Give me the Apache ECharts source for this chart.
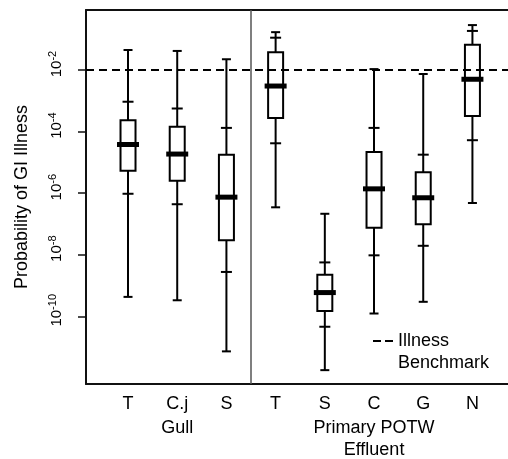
<!DOCTYPE html>
<html>
<head>
<meta charset="utf-8">
<script src="https://cdn.jsdelivr.net/npm/echarts@6/dist/echarts.min.js"></script>
<style>
html,body{margin:0;padding:0;background:#fff;}
#chart{width:508px;height:459px;}
</style>
</head>
<body>
<div id="chart"></div>
<script>
// Categories (x positions 0..7)
const categories = ['T', 'C.j', 'S', 'T', 'S', 'C', 'G', 'N'];
const groups = ['Gull', 'Primary POTW\nEffluent'];
const groupCenters = [1, 5];
const groupBoundary = 2.5;
// Values are log10(probability of GI illness)
const maxVals = [-1.35, -1.38, -1.65, -0.77, -6.67, -1.97, -2.13, -0.54];
const p95Vals = [-3.03, -3.25, -3.88, -0.95, -8.25, -3.88, -4.75, -0.73];
const q3Vals  = [-3.63, -3.84, -4.75, -1.42, -8.65, -4.66, -5.32, -1.18];
const medVals = [-4.42, -4.73, -6.13, -2.52, -9.23, -5.86, -6.15, -2.30];
const q1Vals  = [-5.27, -5.60, -7.53, -3.56, -9.83, -7.12, -7.01, -3.49];
const p5Vals  = [-6.02, -6.36, -8.56, -4.38, -10.34, -8.02, -7.71, -4.28];
const minVals = [-9.37, -9.48, -11.14, -6.46, -11.75, -9.91, -9.53, -6.32];
const benchmarkExp = -2;           // 10^-2 illness benchmark
const yTickExps = [-10, -8, -6, -4, -2];

const FONT = 'Liberation Sans, Arial, Helvetica, sans-serif';
const data = categories.map((c, i) => [i, minVals[i], p5Vals[i], q1Vals[i], medVals[i], q3Vals[i], p95Vals[i], maxVals[i]]);

const chart = echarts.init(document.getElementById('chart'), null, {renderer: 'canvas'});
const xMin = -0.854, xMax = 7.723;
const frameLine = {show: true, onZero: false, lineStyle: {color: '#111', width: 2}};

chart.setOption({
  animation: false,
  backgroundColor: '#fff',
  textStyle: {fontFamily: FONT, color: '#000'},
  grid: {left: 86, top: 10, right: 0, height: 374, show: false, containLabel: false, outerBoundsMode: 'none'},
  legend: {
    left: 373, top: 308, padding: 0, itemWidth: 20, itemHeight: 2,
    data: [{name: 'Illness Benchmark', icon: 'path://M0,0h8v2h-8z M12,0h8v2h-8z'}],
    formatter: n => ' \n' + n.replace(' ', '\n'),
    itemStyle: {color: '#000'},
    textStyle: {fontFamily: FONT, fontSize: 18, color: '#000', lineHeight: 22},
    selectedMode: false
  },
  xAxis: [{
    type: 'value', min: xMin, max: xMax,
    axisLine: frameLine, axisTick: {show: false}, splitLine: {show: false},
    axisLabel: {customValues: categories.map((c, i) => i), formatter: v => categories[Math.round(v)], fontSize: 18, color: '#000', fontFamily: FONT, margin: 11}
  }, {
    type: 'value', min: xMin, max: xMax, position: 'bottom', offset: 23,
    axisLine: {show: false}, axisTick: {show: false}, splitLine: {show: false},
    axisLabel: {customValues: groupCenters, formatter: v => groups[groupCenters.indexOf(Math.round(v))], fontSize: 18, lineHeight: 22, color: '#000', fontFamily: FONT, margin: 10}
  }, {
    type: 'value', min: xMin, max: xMax, position: 'top',
    axisLine: frameLine, axisTick: {show: false}, splitLine: {show: false}, axisLabel: {show: false}
  }],
  yAxis: {
    type: 'value', min: -12.2, max: -0.05,
    name: 'Probability of GI Illness', nameLocation: 'middle', nameGap: 55,
    nameTextStyle: {fontSize: 18, color: '#000', fontFamily: FONT},
    splitLine: {show: false},
    axisLine: frameLine,
    axisTick: {show: true, customValues: yTickExps, length: 8, lineStyle: {color: '#111', width: 1.5}},
    axisLabel: {
      customValues: yTickExps, rotate: 90, margin: 19,
      formatter: v => '{b|10}{s|' + v + '}',
      rich: {
        b: {fontSize: 15, color: '#000', fontFamily: FONT, padding: [0, 0, 0, 12]},
        s: {fontSize: 11, color: '#000', fontFamily: FONT, padding: [0, 0, 9, 0]}
      }
    }
  },
  series: [{
    type: 'custom',
    name: 'boxes',
    clip: false,
    data: data,
    encode: {x: 0, y: [1, 2, 3, 4, 5, 6, 7]},
    z: 2,
    renderItem: function (params, api) {
      const x = api.value(0);
      const pt = k => api.coord([x, api.value(k)]);
      const mn = pt(1), p5 = pt(2), q1 = pt(3), md = pt(4), q3 = pt(5), p95 = pt(6), mx = pt(7);
      const cx = mn[0];
      const ls = {stroke: '#000', lineWidth: 2};
      const hl = (y, hw) => ({type: 'line', shape: {x1: cx - hw, y1: y, x2: cx + hw, y2: y}, style: ls});
      return {
        type: 'group',
        children: [
          {type: 'line', shape: {x1: cx, y1: mx[1], x2: cx, y2: mn[1]}, style: ls},
          hl(mx[1], 4.5), hl(mn[1], 4.5),
          hl(p95[1], 5.5), hl(p5[1], 5.5),
          {type: 'rect', shape: {x: cx - 7.5, y: q3[1], width: 15, height: q1[1] - q3[1]}, style: {fill: '#fff', stroke: '#000', lineWidth: 2}},
          {type: 'rect', shape: {x: cx - 11, y: md[1] - 2.5, width: 22, height: 5}, style: {fill: '#000'}}
        ]
      };
    }
  }, {
    type: 'line',
    name: 'Illness Benchmark',
    data: [],
    symbol: 'none',
    z: 5,
    lineStyle: {color: '#000', width: 2, type: [8, 4]},
    itemStyle: {color: '#000'},
    markLine: {
      silent: true, symbol: ['none', 'none'], label: {show: false},
      lineStyle: {color: '#000', width: 2, type: [8, 5]},
      data: [{yAxis: benchmarkExp}]
    }
  }, {
    type: 'line',
    name: 'divider',
    data: [],
    symbol: 'none',
    markLine: {
      silent: true, symbol: ['none', 'none'], label: {show: false},
      lineStyle: {color: '#555', width: 1.5, type: 'solid'},
      data: [{xAxis: groupBoundary}]
    }
  }]
});
</script>
</body>
</html>
